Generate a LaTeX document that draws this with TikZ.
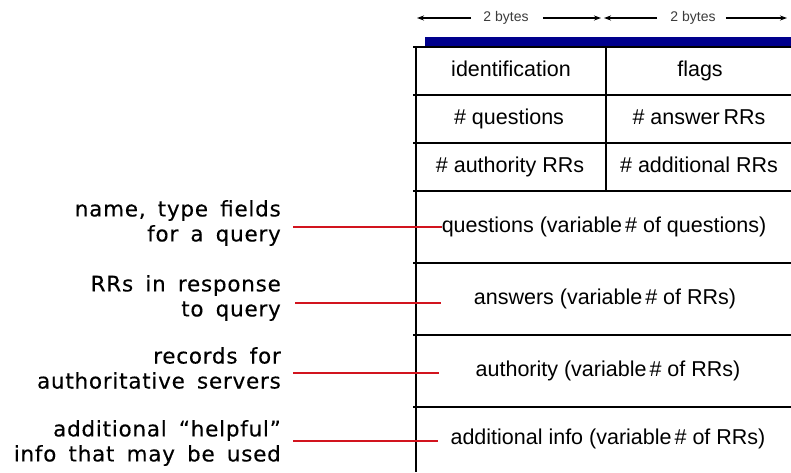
\documentclass[tikz,border=0pt]{standalone}
\usepackage{fontspec}
\setmainfont{Liberation Sans}
\newfontfamily\notefont[WordSpace=1.6,LetterSpace=3.5,FakeBold=0.25]{DejaVu Sans}
\usetikzlibrary{arrows.meta}
\definecolor{barblue}{RGB}{0,0,140}
\definecolor{notered}{RGB}{210,20,30}
\definecolor{bytegray}{RGB}{60,60,60}
\tikzset{
  grid/.style={line width=1.7pt, black},
  cell/.style={font=\fontsize{21.5}{24}\selectfont, inner sep=0pt, text height=15pt, text depth=4pt},
  note/.style={font=\notefont\fontsize{21.5}{25}\selectfont, align=right, anchor=east, inner sep=0pt},
  pointer/.style={notered, line width=1.4pt},
  bytes/.style={font=\fontsize{14}{16}\selectfont, text=bytegray, inner sep=0pt},
  span/.style={-{Stealth[length=7pt,width=5pt]}, line width=1.2pt}
}
\begin{document}
\begin{tikzpicture}[x=1pt,y=-1pt]
\useasboundingbox (0,0) rectangle (791,472);
\fill[white] (0,0) rectangle (791,472);

% field widths
\node[bytes] (b1) at (506,18) {2 bytes};
\node[bytes] (b2) at (693,18) {2 bytes};
\coordinate (b1l) at (417,18);
\coordinate (b1r) at (601,18);
\coordinate (b2l) at (604,18);
\coordinate (b2r) at (787,18);
\draw[span] ([xshift=-12pt]b1.west) -- (b1l);
\draw[span] ([xshift=14pt]b1.east) -- (b1r);
\draw[span] ([xshift=-13pt]b2.west) -- (b2l);
\draw[span] ([xshift=10pt]b2.east) -- (b2r);

% header bar
\fill[barblue] (425,37) rectangle (791,46.5);

% table grid
\draw[grid] (416,47) -- (416,472);
\draw[grid] (606,47) -- (606,191);
\foreach \y in {47,95,143,191,263,335,407}
  \draw[grid] (413,\y) -- (791,\y);

% header fields
\node[cell] (id)    at (511,71)  {identification};
\node[cell] (flags) at (700,71)  {flags};
\node[cell] (nq)    at (509,119) {\# questions};
\node[cell] (nans)  at (699,119) {\# answer\hspace{-2pt} RRs};
\node[cell] (nauth) at (510,167) {\# authority RRs};
\node[cell] (nadd)  at (699,167) {\# additional RRs};

% variable-length sections
\node[cell] (quest) at (604,227) {questions (variable\hspace{-3pt} \# of questions)};
\node[cell] (ans)   at (605,299) {answers (variable\hspace{-3pt} \# of RRs)};
\node[cell] (auth)  at (608,371) {authority (variable\hspace{-3pt} \# of RRs)};
\node[cell] (addi)  at (608,439) {additional info (variable\hspace{-3pt} \# of RRs)};

% notes
\node[note] (nq1) at (281,223) {name, type fields\\for a query};
\node[note] (nq2) at (281,298) {RRs in response\\to query};
\node[note] (nq3) at (281,368) {records for\\authoritative servers};
\node[note] (nq4) at (281,443) {additional “helpful”\\info that may be used};

\coordinate (e2) at (441,303);
\coordinate (e3) at (439,373);
\coordinate (e4) at (438,441);
\draw[pointer] (293,227) -- (quest.west);
\draw[pointer] (295,303) -- (e2);
\draw[pointer] (293,373) -- (e3);
\draw[pointer] (293,441) -- (e4);
\end{tikzpicture}
\end{document}
